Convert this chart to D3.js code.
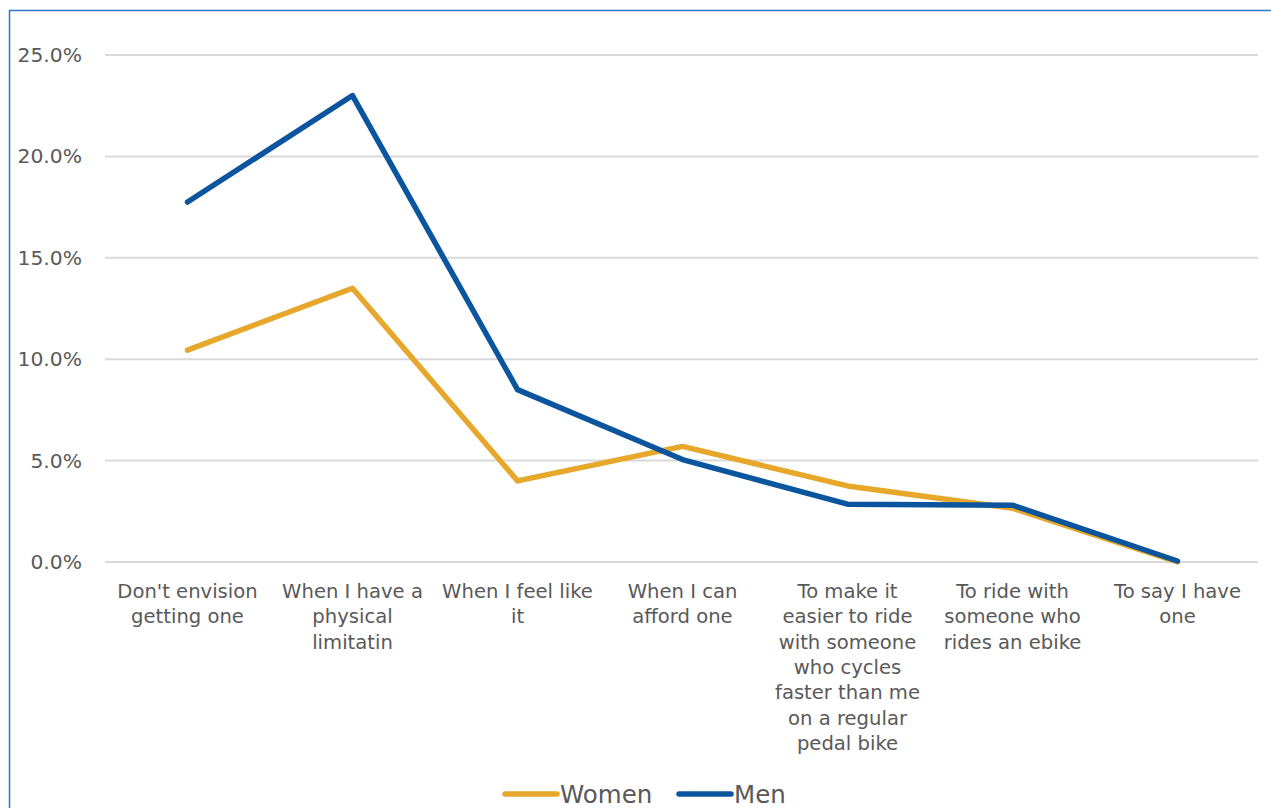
<!DOCTYPE html>
<html><head><meta charset="utf-8">
<script src="https://cdn.jsdelivr.net/npm/d3@7"></script>
<style>
html,body{margin:0;padding:0;background:#fff;}
svg{display:block;}
text{font-family:"DejaVu Sans",sans-serif;fill:#595959;}
</style></head>
<body>
<svg id="chart" width="1271" height="808"></svg>
<script>
const categories = [
  "Don't envision\ngetting one",
  "When I have a\nphysical\nlimitatin",
  "When I feel like\nit",
  "When I can\nafford one",
  "To make it\neasier to ride\nwith someone\nwho cycles\nfaster than me\non a regular\npedal bike",
  "To ride with\nsomeone who\nrides an ebike",
  "To say I have\none"
];
const women = [10.45, 13.5, 4.0, 5.7, 3.75, 2.65, 0.0];
const men = [17.75, 23.0, 8.5, 5.05, 2.85, 2.8, 0.05];
const yTicks = [0, 5, 10, 15, 20, 25];
const seriesNames = ["Women", "Men"];
const colors = ["#E6A72A", "#0B559E"];

(function () {
const FONT = '"DejaVu Sans",sans-serif';
const svg = d3.select("#chart");
// outer border (top + left)
svg.append("path").attr("d","M9.5,808 L9.5,10.5 L1271,10.5")
  .attr("fill","none").attr("stroke","#2E78C2").attr("stroke-width",1.5);

const mLeft = 105, mRight = 1260, mTop = 55, mBottom = 562;
const x = d3.scaleBand().domain(d3.range(categories.length)).range([mLeft, mRight]);
const y = d3.scaleLinear().domain([0, 25]).range([mBottom, mTop]);

// gridlines
svg.append("g").selectAll("line").data(yTicks).join("line")
  .attr("x1", mLeft).attr("x2", mRight - 2)
  .attr("y1", d => y(d)).attr("y2", d => y(d))
  .attr("stroke", "#d9d9d9").attr("stroke-width", 2);

// y labels
const yAxis = d3.axisLeft(y).tickValues(yTicks).tickFormat(d => d3.format(".1f")(d) + "%").tickSize(0).tickPadding(0);
const ga = svg.append("g").attr("transform", `translate(82,0)`).call(yAxis);
ga.select(".domain").remove();
ga.selectAll("text").attr("font-size", 20.3).attr("fill", "#595959")
  .style("font-family", FONT);

// x labels
const xl = svg.append("g").selectAll("text").data(categories).join("text")
  .attr("text-anchor", "middle").attr("font-size", 19.6)
  .attr("transform", (d, i) => `translate(${x(i) + x.bandwidth() / 2},598)`);
xl.each(function(d) {
  const t = d3.select(this);
  d.split("\n").forEach((ln, k) => t.append("tspan").attr("x", 0).attr("y", k * 25.3).text(ln));
});

// lines
const line = d3.line().x((d, i) => x(i) + x.bandwidth() / 2).y(d => y(d));
[women, men].forEach((s, si) => {
  svg.append("path").datum(s).attr("d", line).attr("fill", "none")
    .attr("stroke", colors[si]).attr("stroke-width", 5.5)
    .attr("stroke-linejoin", "round").attr("stroke-linecap", "round");
});

// legend
const legend = [{name: seriesNames[0], c: colors[0], x: 505}, {name: seriesNames[1], c: colors[1], x: 679}];
const lg = svg.append("g").selectAll("g").data(legend).join("g").attr("transform", d => `translate(${d.x},794)`);
lg.append("line").attr("x1", 0).attr("x2", 52).attr("y1", 0).attr("y2", 0)
  .attr("stroke", d => d.c).attr("stroke-width", 5.5).attr("stroke-linecap", "round");
lg.append("text").attr("x", 55).attr("y", 8.5).attr("font-size", 24.5).text(d => d.name);
})();
</script>
</body></html>
